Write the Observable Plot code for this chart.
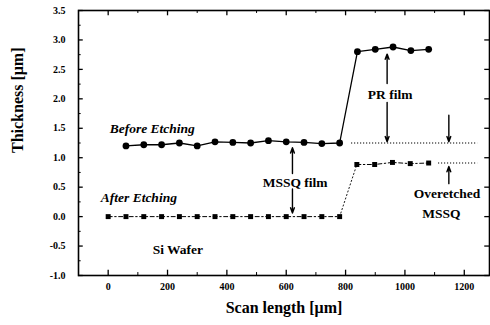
<!DOCTYPE html>
<html>
<head>
<meta charset="utf-8">
<script src="https://cdn.jsdelivr.net/npm/d3@7"></script>
<script src="https://cdn.jsdelivr.net/npm/@observablehq/plot@0.6"></script>
<style>
  html, body { margin: 0; padding: 0; background: #fff; }
  svg { display: block; }
</style>
</head>
<body>
<div id="chart"></div>
<script>
// Before etching (circles, solid line)
const beforeX = [60, 120, 180, 240, 300, 360, 420, 480, 540, 600, 660, 720, 780, 840, 900, 960, 1020, 1080];
const beforeY = [1.20, 1.22, 1.22, 1.25, 1.20, 1.27, 1.26, 1.25, 1.29, 1.27, 1.26, 1.24, 1.25, 2.80, 2.84, 2.88, 2.82, 2.84];
// After etching (squares, dash-dot line)
const afterX = [0, 60, 120, 180, 240, 300, 360, 420, 480, 540, 600, 660, 720, 780, 838, 898, 958, 1018, 1080];
const afterY = [0, 0, 0, 0, 0, 0, 0, 0, 0, 0, 0, 0, 0, 0, 0.885, 0.885, 0.92, 0.90, 0.91];

const xMajor = [0, 200, 400, 600, 800, 1000, 1200];
const xMinor = [-100, 100, 300, 500, 700, 900, 1100];
const yMajor = [-1.0, -0.5, 0.0, 0.5, 1.0, 1.5, 2.0, 2.5, 3.0, 3.5];
const yMinor = [-0.75, -0.25, 0.25, 0.75, 1.25, 1.75, 2.25, 2.75, 3.25];

const guides = [
  {x1: 820, x2: 1245, y: 1.25},
  {x1: 1113, x2: 1245, y: 0.91}
];
const arrows = [
  {x: 940, y1: 2.26, y2: 2.76},
  {x: 940, y1: 1.94, y2: 1.27},
  {x: 1148, y1: 1.72, y2: 1.27},
  {x: 1148, y1: 0.56, y2: 0.85},
  {x: 621, y1: 0.73, y2: 1.17},
  {x: 621, y1: 0.47, y2: 0.06}
];
const italicLabels = [
  {text: "Before Etching", x: 5, y: 1.50},
  {text: "After Etching", x: -25, y: 0.33}
];
const plainLabels = [
  {text: "Si Wafer", x: 235, y: -0.56},
  {text: "PR film", x: 950, y: 2.07},
  {text: "MSSQ film", x: 630, y: 0.58},
  {text: "Overetched", x: 1142, y: 0.39},
  {text: "MSSQ", x: 1123, y: 0.05}
];

const before = beforeX.map((x, i) => ({x, y: beforeY[i]}));
const after = afterX.map((x, i) => ({x, y: afterY[i]}));
const xMin = -100, yMin = -1.0, yMax = 3.5, xMax = 1285;

const font = "'Liberation Serif', 'Times New Roman', serif";

const chart = Plot.plot({
  width: 490,
  height: 325,
  marginLeft: 78,
  marginRight: 1,
  marginTop: 10,
  marginBottom: 50,
  style: {fontFamily: font, background: "#fff", color: "#000"},
  x: {domain: [xMin, xMax]},
  y: {domain: [yMin, yMax]},
  marks: [
    // inward ticks
    Plot.ruleX(xMajor, {x: d => d, y1: yMin, y2: yMin + 0.09, strokeWidth: 1.3}),
    Plot.ruleX(xMinor, {x: d => d, y1: yMin, y2: yMin + 0.05, strokeWidth: 1}),
    Plot.ruleX(xMajor, {x: d => d, y1: yMax, y2: yMax - 0.09, strokeWidth: 1.3}),
    Plot.ruleX(xMinor, {x: d => d, y1: yMax, y2: yMax - 0.05, strokeWidth: 1}),
    Plot.ruleY(yMajor, {y: d => d, x1: xMin, x2: xMin + 16, strokeWidth: 1.3}),
    Plot.ruleY(yMinor, {y: d => d, x1: xMin, x2: xMin + 9, strokeWidth: 1}),
    Plot.ruleY(yMajor, {y: d => d, x1: xMax, x2: xMax - 16, strokeWidth: 1.3}),
    Plot.frame({stroke: "#000", strokeWidth: 1.6}),
    Plot.axisX(xMajor, {tickSize: 0, tickPadding: 7, fontSize: 10, fontWeight: "bold", tickFormat: d => String(d)}),
    Plot.axisY(yMajor, {tickSize: 0, tickPadding: 13, fontSize: 10, fontWeight: "bold", tickFormat: d => d.toFixed(1), label: null}),
    Plot.text(["Scan length [μm]"], {frameAnchor: "bottom", dy: 37, fontSize: 16, fontWeight: "bold", fontFamily: font}),
    Plot.text(["Thickness [μm]"], {frameAnchor: "left", dx: -61, dy: 10, rotate: -90, fontSize: 16, fontWeight: "bold", fontFamily: font}),
    // guide dotted lines
    Plot.ruleY(guides, {y: "y", x1: "x1", x2: "x2", strokeWidth: 1.1, strokeDasharray: "1.2,1.8"}),
    // before etching
    Plot.line(before, {x: "x", y: "y", stroke: "#000", strokeWidth: 1.3}),
    Plot.dot(before, {x: "x", y: "y", r: 3.4, fill: "#000", stroke: "none"}),
    // after etching
    Plot.line(after.slice(0, 14), {x: "x", y: "y", stroke: "#000", strokeWidth: 1, strokeDasharray: "4,2.5,1.5,2.5"}),
    Plot.line(after.slice(13, 15), {x: "x", y: "y", stroke: "#000", strokeWidth: 0.9, strokeDasharray: "1.2,2.5"}),
    Plot.line(after.slice(14), {x: "x", y: "y", stroke: "#000", strokeWidth: 1, strokeDasharray: "4,2.5,1.5,2.5"}),
    Plot.dot(after, {x: "x", y: "y", symbol: "square", r: 2.8, fill: "#000", stroke: "none"}),
    // arrows
    Plot.arrow(arrows, {x1: "x", x2: "x", y1: "y1", y2: "y2", stroke: "#000", strokeWidth: 1.4, headLength: 6, headAngle: 40}),
    // labels
    Plot.text(italicLabels, {x: "x", y: "y", text: "text", textAnchor: "start", fontStyle: "italic", fontWeight: "bold", fontSize: 13.5, fontFamily: font}),
    Plot.text(plainLabels, {x: "x", y: "y", text: "text", textAnchor: "middle", fontWeight: "bold", fontSize: 13.5, fontFamily: font})
  ]
});
document.getElementById("chart").appendChild(chart);
</script>
</body>
</html>
